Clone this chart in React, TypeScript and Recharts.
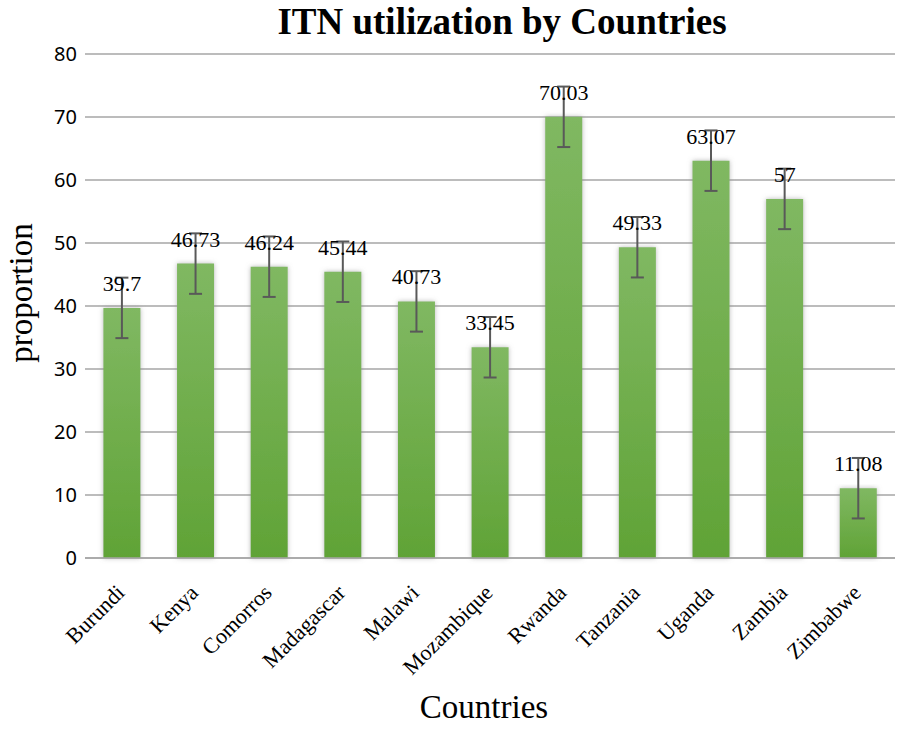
import { BarChart, Bar, XAxis, YAxis, CartesianGrid, ErrorBar, LabelList, Label } from "recharts";

const countries = ["Burundi", "Kenya", "Comorros", "Madagascar", "Malawi", "Mozambique", "Rwanda", "Tanzania", "Uganda", "Zambia", "Zimbabwe"];
const proportions = [39.7, 46.73, 46.24, 45.44, 40.73, 33.45, 70.03, 49.33, 63.07, 57, 11.08];
const errors = [4.8, 4.8, 4.8, 4.8, 4.8, 4.8, 4.8, 4.8, 4.8, 4.8, 4.8];
const yTicks = [0, 10, 20, 30, 40, 50, 60, 70, 80];

const data = countries.map((name, i) => ({ name, value: proportions[i], err: errors[i] }));

const SERIF = '"Liberation Serif", "Times New Roman", serif';
const SANS = '"Noto Sans", "Open Sans", sans-serif';

function CountryTick(props: any) {
  const { x, y, payload } = props;
  return (
    <g transform={`translate(${x + 4},${y + 28})`}>
      <text x={0} y={0} transform="rotate(-45)" textAnchor="end" fontFamily={SERIF} fontSize={22} fill="#000">
        {payload.value}
      </text>
    </g>
  );
}

function YTitle(props: any) {
  const cy = props.viewBox.y + props.viewBox.height / 2 - 13;
  return (
    <text x={32} y={cy} transform={`rotate(-90, 32, ${cy})`} textAnchor="middle" fontFamily={SERIF} fontSize={33} fill="#000">
      proportion
    </text>
  );
}

export default function App() {
  return (
    <div style={{ position: "absolute", left: 0, top: 0, width: 898, height: 732, background: "#fff" }}>
      <div
        style={{
          position: "absolute",
          top: 0,
          left: 0,
          width: 1004,
          textAlign: "center",
          fontFamily: SERIF,
          fontWeight: "bold",
          fontSize: 37,
          color: "#000",
        }}
      >
        ITN utilization by Countries
      </div>
      <BarChart
        width={898}
        height={732}
        data={data}
        margin={{ top: 54, right: 3, left: 0, bottom: 0 }}
        barCategoryGap="25%"
      >
        <defs>
          <linearGradient id="barFill" x1="0" y1="0" x2="0" y2="1">
            <stop offset="0%" stopColor="#80b862" />
            <stop offset="100%" stopColor="#60a336" />
          </linearGradient>
          <filter id="barShadow" x="-30%" y="-5%" width="160%" height="110%">
            <feDropShadow dx="0" dy="0" stdDeviation="2.5" floodColor="#888" floodOpacity="0.6" />
          </filter>
        </defs>
        <CartesianGrid vertical={false} stroke="#a6a6a6" strokeWidth={1.5} />
        <XAxis
          dataKey="name"
          interval={0}
          height={174}
          axisLine={{ stroke: "#a6a6a6", strokeWidth: 1.5 }}
          tickLine={false}
          tick={<CountryTick />}
        >
          <Label value="Countries" position="insideBottom" offset={14} dx={-6} style={{ fontFamily: SERIF, fontSize: 33, fill: "#000" }} />
        </XAxis>
        <YAxis
          domain={[0, 80]}
          ticks={yTicks}
          width={85}
          axisLine={false}
          tickLine={false}
          tick={{ fontFamily: SANS, fontSize: 20, fill: "#000" }}
        >
          <Label content={<YTitle />} />
        </YAxis>
        <Bar dataKey="value" fill="url(#barFill)" filter="url(#barShadow)" isAnimationActive={false}>
          <LabelList dataKey="value" position="top" offset={17} style={{ fontFamily: SERIF, fontSize: 22, fill: "#000" }} />
          <ErrorBar dataKey="err" width={6.5} stroke="#595959" strokeWidth={2} direction="y" />
        </Bar>
      </BarChart>
    </div>
  );
}
